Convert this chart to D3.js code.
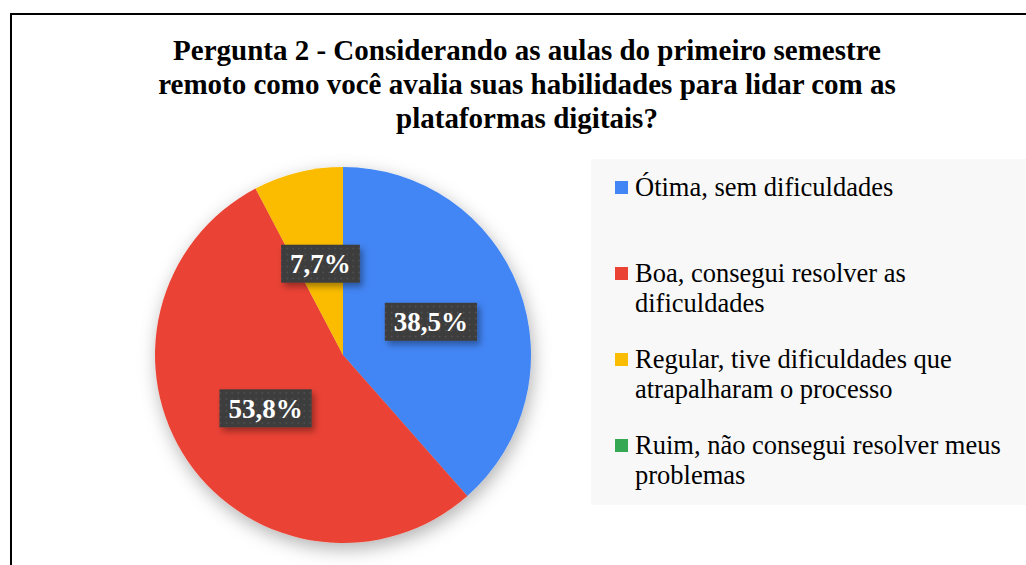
<!DOCTYPE html>
<html>
<head>
<meta charset="utf-8">
<script src="https://cdn.jsdelivr.net/npm/d3@7"></script>
<style>
  body { margin: 0; background: #fff; }
  svg text { font-family: "Liberation Serif", "Times New Roman", serif; }
</style>
</head>
<body>
<div id="chart"></div>
<script>
// Chart data
const titleLines = [
  'Pergunta 2 - Considerando as aulas do primeiro semestre',
  'remoto como você avalia suas habilidades para lidar com as',
  'plataformas digitais?'
];
const categories = [
  'Ótima, sem dificuldades',
  'Boa, consegui resolver as dificuldades',
  'Regular, tive dificuldades que atrapalharam o processo',
  'Ruim, não consegui resolver meus problemas'
];
const values = [38.5, 53.8, 7.7, 0];
const colors = ['#4285F4', '#EA4335', '#FBBC04', '#34A853'];

const W = 1026, H = 565;
const svg = d3.select('#chart').append('svg')
  .attr('width', W)
  .attr('height', H);

const defs = svg.append('defs');

// soft drop shadow for the pie and labels
const shadow = defs.append('filter').attr('id', 'pieShadow')
  .attr('x', '-20%').attr('y', '-20%').attr('width', '140%').attr('height', '140%');
shadow.append('feDropShadow')
  .attr('dx', 2).attr('dy', 6).attr('stdDeviation', 9)
  .attr('flood-color', '#000').attr('flood-opacity', 0.3);

const lblShadow = defs.append('filter').attr('id', 'lblShadow')
  .attr('x', '-30%').attr('y', '-30%').attr('width', '160%').attr('height', '160%');
lblShadow.append('feDropShadow')
  .attr('dx', 3).attr('dy', 4).attr('stdDeviation', 3)
  .attr('flood-color', '#000').attr('flood-opacity', 0.35);

// dotted fill for data labels
const pat = defs.append('pattern').attr('id', 'dots')
  .attr('width', 6).attr('height', 6).attr('patternUnits', 'userSpaceOnUse');
pat.append('rect').attr('width', 6).attr('height', 6).attr('fill', '#3d3d3d');
pat.append('rect').attr('x', 2).attr('y', 2).attr('width', 1.4).attr('height', 1.4).attr('fill', '#585858');

// outer frame
svg.append('rect')
  .attr('x', 11).attr('y', 14)
  .attr('width', W + 20).attr('height', H + 20)
  .attr('fill', '#fff')
  .attr('stroke', '#000')
  .attr('stroke-width', 2);

// title
svg.append('g').selectAll('text')
  .data(titleLines)
  .enter()
  .append('text')
  .attr('x', 527)
  .attr('y', (d, i) => 60 + i * 34)
  .attr('text-anchor', 'middle')
  .attr('font-size', '29px')
  .attr('font-weight', 'bold')
  .attr('fill', '#000')
  .text(d => d);

// legend background
svg.append('rect')
  .attr('x', 591).attr('y', 159)
  .attr('width', W - 591).attr('height', 346)
  .attr('fill', '#f8f8f8');

// pie
const cx = 343, cy = 355, r = 188;
const pie = d3.pie().sort(null).value(d => d);
const arcs = pie(values);
const arc = d3.arc().innerRadius(0).outerRadius(r);

const pieG = svg.append('g')
  .attr('transform', `translate(${cx},${cy})`);

pieG.append('g')
  .attr('filter', 'url(#pieShadow)')
  .selectAll('path')
  .data(arcs)
  .enter()
  .append('path')
  .attr('d', arc)
  .attr('fill', (d, i) => colors[i]);

// data labels at half radius along the slice bisector
const labelArc = d3.arc().innerRadius(r * 0.5).outerRadius(r * 0.5);
const fmt = v => d3.format('.1f')(v).replace('.', ',') + '%';
const lbls = pieG.selectAll('.lbl')
  .data(arcs.filter(d => d.value > 0))
  .enter()
  .append('g')
  .attr('class', 'lbl')
  .attr('transform', d => `translate(${labelArc.centroid(d)})`);

lbls.each(function(d) {
  const g = d3.select(this);
  const t = g.append('text')
    .attr('text-anchor', 'middle')
    .attr('dy', '0.35em')
    .attr('font-size', '27px')
    .attr('font-weight', 'bold')
    .attr('fill', '#fff')
    .text(fmt(d.value));
  const bb = t.node().getBBox();
  g.insert('rect', 'text')
    .attr('x', bb.x - 9).attr('y', -19)
    .attr('width', bb.width + 18).attr('height', 38)
    .attr('fill', 'url(#dots)')
    .attr('filter', 'url(#lblShadow)');
});

// legend
const legX = 615, maxW = 378;
const legTop = [187, 273, 359, 445];
const leg = svg.append('g');
categories.forEach((c, i) => {
  const g = leg.append('g').attr('transform', `translate(${legX},${legTop[i]})`);
  g.append('rect')
    .attr('x', 0).attr('y', -6)
    .attr('width', 13).attr('height', 13)
    .attr('fill', colors[i]);
  const t = g.append('text')
    .attr('x', 20).attr('y', 9)
    .attr('font-size', '26.5px')
    .attr('fill', '#000');
  // simple word wrap
  const words = c.split(' ');
  let line = [];
  let ts = t.append('tspan').attr('x', 20).attr('dy', 0);
  words.forEach(w => {
    line.push(w);
    ts.text(line.join(' '));
    if (ts.node().getComputedTextLength() > maxW && line.length > 1) {
      line.pop();
      ts.text(line.join(' '));
      line = [w];
      ts = t.append('tspan').attr('x', 20).attr('dy', 30).text(w);
    }
  });
});
</script>
</body>
</html>
